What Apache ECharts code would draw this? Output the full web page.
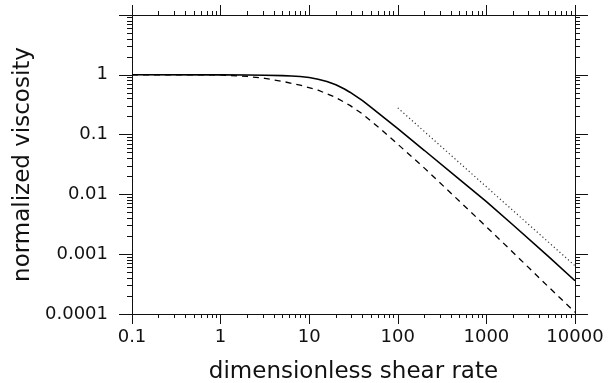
<!DOCTYPE html>
<html>
<head>
<meta charset="utf-8">
<script src="https://cdn.jsdelivr.net/npm/echarts@6/dist/echarts.min.js"></script>
<style>
html,body{margin:0;padding:0;background:#fff;}
#chart{width:608px;height:383px;}
</style>
</head>
<body>
<div id="chart"></div>
<script>
// ---- data ----
const solidX = [0.1, 1, 2, 3.16, 5, 6.3, 7.9, 10, 12.6, 15.85, 20, 25, 28.8, 40, 50, 100, 200, 500, 1000, 2000, 5000, 10000];
const solidY = [1, 0.999, 0.993, 0.985, 0.968, 0.955, 0.935, 0.90, 0.842, 0.772, 0.682, 0.578, 0.512, 0.369, 0.284, 0.1254, 0.0542, 0.0177, 0.0076, 0.00308, 0.00092, 0.00036];

const dashedX = [0.1, 0.5, 1, 2, 3.16, 5, 7.9, 12.6, 20, 28.8, 39.8, 63, 100, 200, 501, 1000, 2000, 5000, 10000];
const dashedY = [1, 0.999, 0.995, 0.939, 0.872, 0.777, 0.671, 0.553, 0.417, 0.308, 0.222, 0.126, 0.069, 0.0275, 0.0076, 0.00287, 0.00107, 0.000286, 0.000107];

const dottedX = [100, 10000];
const dottedY = [0.28, 0.00064];

const xMajorTicks = [0.1, 1, 10, 100, 1000, 10000];
const yMajorTicks = [0.0001, 0.001, 0.01, 0.1, 1, 10];
const xTickLabels = ['0.1', '1', '10', '100', '1000', '10000'];
const yTickLabels = ['0.0001', '0.001', '0.01', '0.1', '1', ''];
const minorMultipliers = [2, 3, 4, 5, 6, 7, 8, 9];

const xTitle = 'dimensionless shear rate';
const yTitle = 'normalized viscosity';

// ---- build ----
function minors(majors) {
  const out = [];
  for (let i = 0; i < majors.length - 1; i++) {
    for (const m of minorMultipliers) out.push(+(majors[i] * m).toPrecision(6));
  }
  return out;
}
const xMinorTicks = minors(xMajorTicks);
const yMinorTicks = minors(yMajorTicks);

function labelFor(values, labels) {
  return function (v) {
    for (let i = 0; i < values.length; i++) {
      if (Math.abs(Math.log10(v) - Math.log10(values[i])) < 1e-6) return labels[i];
    }
    return '';
  };
}

const FONT = 'DejaVu Sans';
const AXCOL = '#111';

function xAx(pos, major, withLabels) {
  return {
    type: 'log', logBase: 10, min: 0.1, max: 10000, position: pos,
    gridIndex: 0,
    axisLine: { show: major, onZero: false, lineStyle: { color: AXCOL, width: 1 } },
    axisTick: { show: true, inside: false, length: major ? 10 : 4,
      customValues: major ? xMajorTicks : xMinorTicks,
      lineStyle: { color: AXCOL, width: 1 } },
    axisLabel: withLabels ? {
      show: true, customValues: xMajorTicks, formatter: labelFor(xMajorTicks, xTickLabels),
      fontFamily: FONT, fontSize: 18, color: '#111', margin: 14
    } : { show: false },
    splitLine: { show: false },
    minorTick: { show: false },
    name: withLabels ? xTitle : '',
    nameLocation: 'middle', nameGap: 47,
    nameTextStyle: { fontFamily: FONT, fontSize: 23, color: '#111' }
  };
}
function yAx(pos, major, withLabels) {
  return {
    type: 'log', logBase: 10, min: 0.0001, max: 10, position: pos,
    gridIndex: 0,
    axisLine: { show: major, onZero: false, lineStyle: { color: AXCOL, width: 1 } },
    axisTick: { show: true, inside: false, length: major ? 13 : 5,
      customValues: major ? yMajorTicks : yMinorTicks,
      lineStyle: { color: AXCOL, width: 1 } },
    axisLabel: withLabels ? {
      show: true, customValues: yMajorTicks, formatter: labelFor(yMajorTicks, yTickLabels),
      fontFamily: FONT, fontSize: 18, color: '#111', margin: 24
    } : { show: false },
    splitLine: { show: false },
    minorTick: { show: false },
    name: withLabels ? yTitle : '',
    nameLocation: 'middle', nameGap: 92, nameRotate: 90,
    nameTextStyle: { fontFamily: FONT, fontSize: 23, color: '#111' }
  };
}

function pairs(xs, ys) { return xs.map((x, i) => [x, ys[i]]); }

const chart = echarts.init(document.getElementById('chart'), null, { renderer: 'canvas' });
chart.setOption({
  animation: false,
  backgroundColor: '#fff',
  grid: { left: 132, right: 33, top: 15, bottom: 69, containLabel: false, outerBoundsMode: 'none' },
  xAxis: [xAx('bottom', true, true), xAx('bottom', false, false), xAx('top', true, false), xAx('top', false, false)],
  yAxis: [yAx('left', true, true), yAx('left', false, false), yAx('right', true, false), yAx('right', false, false)],
  series: [
    { type: 'line', xAxisIndex: 0, yAxisIndex: 0, data: pairs(solidX, solidY),
      showSymbol: false, smooth: false,
      lineStyle: { color: '#000', width: 1.6, type: 'solid' } },
    { type: 'line', xAxisIndex: 0, yAxisIndex: 0, data: pairs(dashedX, dashedY),
      showSymbol: false, smooth: false,
      lineStyle: { color: '#000', width: 1.3, type: [6, 5] } },
    { type: 'line', xAxisIndex: 0, yAxisIndex: 0, data: pairs(dottedX, dottedY),
      showSymbol: false,
      lineStyle: { color: '#333', width: 1.2, type: [1.2, 2.6] } }
  ]
});
</script>
</body>
</html>
